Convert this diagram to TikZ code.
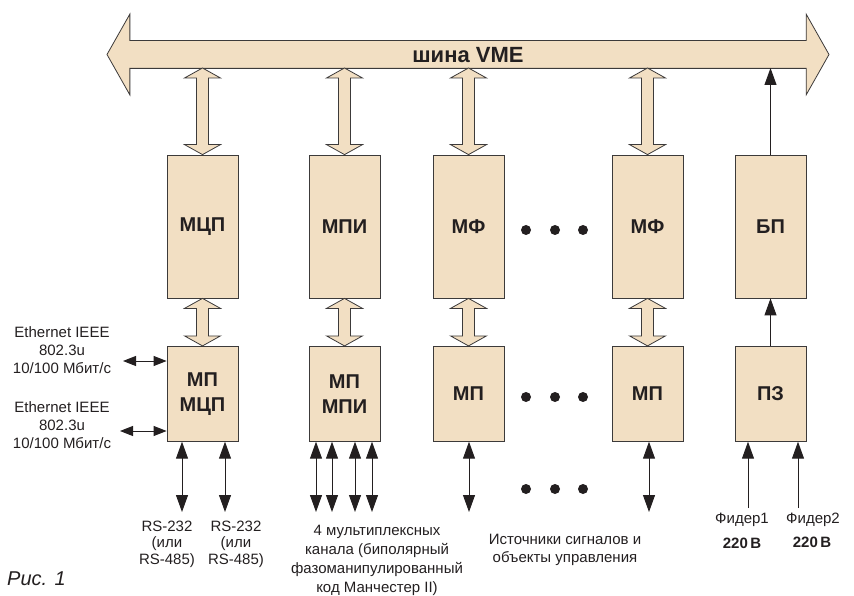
\documentclass[tikz,border=0pt]{standalone}
\usepackage{fontspec}
\setmainfont{Liberation Sans}
\usepackage{xcolor}
\usetikzlibrary{shapes.arrows,arrows.meta,positioning,calc}

\definecolor{boxfill}{HTML}{F2DFC3}
\definecolor{edge}{HTML}{3C3A3A}
\definecolor{ink}{HTML}{231F20}

\begin{document}
\begin{tikzpicture}[x=1pt, y=-1pt, >={Triangle[length=17pt,width=12pt]},
    blk/.style={draw=edge, line width=0.8pt, fill=boxfill, minimum width=71pt, text=ink,
        font=\fontsize{20}{25}\selectfont\bfseries, align=center, inner sep=0pt},
    highblk/.style={blk, minimum height=143pt},
    lowblk/.style={blk, minimum height=95pt},
    lbl/.style={text=ink, font=\fontsize{15}{18}\selectfont, align=center, inner sep=0pt},
    wire/.style={line width=1pt, draw=ink},
    ethw/.style={wire, arrows={Triangle[length=13pt,width=10pt]-Triangle[length=13pt,width=10pt]}},
    fat/.style={draw=edge, line width=0.8pt, fill=boxfill,
        to path={let \p1=(\tikztostart), \p2=(\tikztotarget) in
            -- (\x1+18pt,\y1-10pt) -- (\x1+6pt,\y1-10pt) -- (\x1+6pt,\y2+10pt) -- (\x1+18pt,\y2+10pt)
            -- (\x2,\y2) -- (\x1-18pt,\y2+10pt) -- (\x1-6pt,\y2+10pt) -- (\x1-6pt,\y1-10pt)
            -- (\x1-18pt,\y1-10pt) -- cycle}}]
    \useasboundingbox (0,0) rectangle (854,596);

    % VME bus
    \node[double arrow, draw=edge, line width=0.8pt, fill=boxfill, inner xsep=0pt,
        text height=15.5pt, text depth=0pt, inner ysep=5.75pt,
        minimum height=722pt, minimum width=80pt, double arrow head extend=26.5pt,
        double arrow tip angle=121, text=ink, font=\fontsize{22}{24}\selectfont\bfseries]
        (bus) at (468,54.5) {шина VME};
    \coordinate (busfoot) at (468,68);

    % modules
    \node[highblk] (mcp) at (202.5,226.5) {МЦП};
    \node[highblk] (mpi) at (344.5,226.5) {МПИ};
    \node[highblk] (mfa) at (468.5,226.5) {МФ};
    \node[highblk] (mfb) at (647.5,226.5) {МФ};
    \node[highblk] (bp) at (770.5,226.5) {БП};

    \node[lowblk, below=47.5pt of mcp] (mpmcp) {МП\\МЦП};
    \node[lowblk, below=47.5pt of mpi] (mpmpi) {МП\\МПИ};
    \node[lowblk, below=47.5pt of mfa] (mpa) {МП};
    \node[lowblk, below=47.5pt of mfb] (mpb) {МП};
    \node[lowblk, below=47.5pt of bp] (pz) {ПЗ};

    % wide links
    \foreach \a/\b in {mcp/mpmcp, mpi/mpmpi, mfa/mpa, mfb/mpb} {
        \draw[fat] (\a |- busfoot) to (\a.north);
        \draw[fat] (\a.south) to (\b.north);
    }

    % power
    \draw[wire,->] (bp.north) -- (bp |- busfoot);
    \draw[wire,->] (pz.north) -- (bp.south);
    \coordinate (fa) at (748,508);
    \coordinate (fb) at (798,508);
    \draw[wire,->] (fa) -- (fa |- pz.south);
    \draw[wire,->] (fb) -- (fb |- pz.south);

    % Ethernet
    \coordinate (ea) at (123,361);
    \coordinate (eb) at (120,431);
    \draw[ethw] (ea) -- (ea -| mpmcp.west);
    \draw[ethw] (eb) -- (eb -| mpmcp.west);

    % serial and field lines
    \foreach \x in {182,225} {
        \coordinate (rs\x) at (\x,512);
        \draw[wire,<->] (rs\x) -- (rs\x |- mpmcp.south);
    }
    \foreach \x in {316,332,355,372} {
        \coordinate (mx\x) at (\x,512);
        \draw[wire,<->] (mx\x) -- (mx\x |- mpmpi.south);
    }
    \coordinate (ioa) at (469,512);
    \coordinate (iob) at (649,512);
    \draw[wire,<->] (ioa) -- (ioa |- mpa.south);
    \draw[wire,<->] (iob) -- (iob |- mpb.south);

    % dots
    \foreach \y in {230,397,489}
        \foreach \x in {526,555,583}
            \fill[ink] (\x,\y) circle (5pt);

    % labels
    \node[lbl] (etha) at (62,350) {Ethernet IEEE\\802.3u\\10/100 Мбит/с};
    \node[lbl] (ethb) at (62,425) {Ethernet IEEE\\802.3u\\10/100 Мбит/с};
    \node[lbl, font=\fontsize{15}{16.5}\selectfont] (rsa) at (167,544) {RS-232\\(или\\RS-485)};
    \node[lbl, font=\fontsize{15}{16.5}\selectfont] (rsb) at (236,544) {RS-232\\(или\\RS-485)};
    \node[lbl, font=\fontsize{15}{19}\selectfont] (mux) at (377,560)
        {4 мультиплексных\\канала (биполярный\\фазоманипулированный\\код Манчестер II)};
    \node[lbl] (src) at (565,550) {Источники сигналов и\\объекты управления};
    \node[lbl] (fda) at (742,520) {Фидер1};
    \node[lbl] (fdb) at (813,520) {Фидер2};
    \node[lbl, font=\fontsize{15}{18}\selectfont\bfseries] (va) at (742,543) {220\,В};
    \node[lbl, font=\fontsize{15}{18}\selectfont\bfseries] (vb) at (812,542) {220\,В};
    \node[anchor=west, inner sep=0pt, text=ink, font=\fontsize{20}{24}\selectfont\itshape] (fig) at (7,579) {Рис. 1};
\end{tikzpicture}
\end{document}
